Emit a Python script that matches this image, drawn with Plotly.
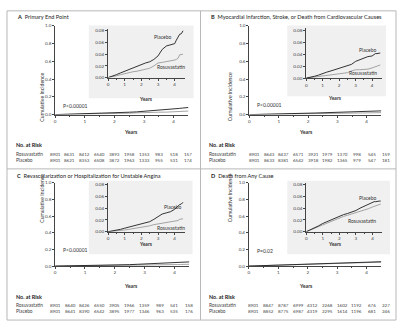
import plotly.graph_objects as go

W, H = 400, 326

# ---------------- data ----------------
years = [0, 0.25, 0.5, 0.75, 1.0, 1.25, 1.5, 1.75, 2.0, 2.25, 2.5, 2.75,
         3.0, 3.25, 3.5, 3.75, 4.0, 4.1, 4.2, 4.3, 4.4, 4.5]

A_placebo = [0, 0.002, 0.005, 0.008, 0.011, 0.014, 0.016, 0.019, 0.022, 0.025, 0.027, 0.031,
             0.037, 0.048, 0.054, 0.056, 0.058, 0.064, 0.070, 0.074, 0.075, 0.080]
A_rosuva = [0, 0.001, 0.003, 0.005, 0.007, 0.008, 0.010, 0.011, 0.013, 0.014, 0.016, 0.020,
            0.025, 0.026, 0.027, 0.028, 0.030, 0.031, 0.033, 0.039, 0.039, 0.040]

B_placebo = [0, 0.001, 0.003, 0.005, 0.008, 0.010, 0.012, 0.014, 0.016, 0.018, 0.020, 0.023,
             0.028, 0.031, 0.033, 0.036, 0.037, 0.039, 0.041, 0.041, 0.041, 0.042]
B_rosuva = [0, 0.001, 0.001, 0.002, 0.003, 0.004, 0.005, 0.006, 0.007, 0.008, 0.009, 0.012,
            0.014, 0.014, 0.014, 0.015, 0.017, 0.018, 0.019, 0.021, 0.022, 0.022]

C_placebo = [0, 0.001, 0.002, 0.004, 0.006, 0.008, 0.009, 0.011, 0.013, 0.015, 0.017, 0.021,
             0.026, 0.030, 0.032, 0.034, 0.038, 0.041, 0.044, 0.046, 0.047, 0.050]
C_rosuva = [0, 0.0005, 0.001, 0.002, 0.003, 0.004, 0.005, 0.006, 0.007, 0.008, 0.010, 0.012,
            0.013, 0.014, 0.015, 0.016, 0.017, 0.018, 0.019, 0.021, 0.021, 0.022]

D_placebo = [0, 0.003, 0.006, 0.010, 0.014, 0.017, 0.020, 0.024, 0.027, 0.029, 0.031, 0.033,
             0.036, 0.040, 0.043, 0.047, 0.050, 0.051, 0.051, 0.052, 0.052, 0.052]
D_rosuva = [0, 0.003, 0.006, 0.009, 0.012, 0.015, 0.018, 0.021, 0.024, 0.026, 0.028, 0.030,
            0.032, 0.034, 0.037, 0.039, 0.042, 0.043, 0.044, 0.046, 0.047, 0.047]

risk_years = [0, 0.5, 1.0, 1.5, 2.0, 2.5, 3.0, 3.5, 4.0, 4.5]
A_risk_rosuva = [8901, 8631, 8412, 6540, 3893, 1958, 1353, 983, 518, 157]
A_risk_placebo = [8901, 8621, 8353, 6508, 3872, 1963, 1333, 955, 531, 174]
B_risk_rosuva = [8901, 8643, 8437, 6571, 3921, 1979, 1370, 998, 545, 159]
B_risk_placebo = [8901, 8633, 8381, 6542, 3918, 1982, 1365, 979, 547, 181]
C_risk_rosuva = [8901, 8640, 8426, 6550, 3905, 1966, 1359, 989, 541, 158]
C_risk_placebo = [8901, 8641, 8390, 6542, 3895, 1977, 1346, 963, 535, 176]
D_risk_rosuva = [8901, 8847, 8787, 6999, 4312, 2268, 1602, 1192, 676, 227]
D_risk_placebo = [8901, 8852, 8775, 6987, 4319, 2295, 1614, 1196, 681, 246]

titles = ["Primary End Point",
          "Myocardial Infarction, Stroke, or Death from Cardiovascular Causes",
          "Revascularization or Hospitalization for Unstable Angina",
          "Death from Any Cause"]
letters = ["A", "B", "C", "D"]
p_texts = ["P<0.00001", "P<0.00001", "P<0.00001", "P=0.02"]
main_yticks = [0.0, 0.2, 0.4, 0.6, 0.8, 1.0]
inset_yticks = [0.00, 0.02, 0.04, 0.06, 0.08]
xticks = [0, 1, 2, 3, 4]

# label anchor points (data coords in inset)
label_pos = [((3.28, 0.0688), (3.79, 0.0185)),
             ((3.70, 0.0465), (3.46, 0.0080)),
             ((3.85, 0.0420), (3.76, 0.0070)),
             ((3.70, 0.0580), (3.35, 0.0190))]

series = [(A_placebo, A_rosuva, A_risk_rosuva, A_risk_placebo),
          (B_placebo, B_rosuva, B_risk_rosuva, B_risk_placebo),
          (C_placebo, C_rosuva, C_risk_rosuva, C_risk_placebo),
          (D_placebo, D_rosuva, D_risk_rosuva, D_risk_placebo)]

# ---------------- geometry (pixels) ----------------
geo = [
    dict(mx0=54.3, mppy=29.7, mtop=23.3, mbot=113.7, ix0=107.3, ippy=16.7, itop=28.3, ibot=76.0,
         rect=(88, 23, 193, 97), tx=14, ty=14, ylx=36, yrs=131, iyrs=93,
         rh=145, r1=154, r2=160, lx=13, tshift=0, px=60, py=100),
    dict(mx0=249.0, mppy=29.4, mtop=23.3, mbot=113.7, ix0=306.0, ippy=16.5, itop=27.8, ibot=76.5,
         rect=(287, 23, 386, 95), tx=209, ty=14, ylx=229, yrs=131, iyrs=92,
         rh=145, r1=154, r2=160, lx=207, tshift=5, px=255, py=99),
    dict(mx0=54.3, mppy=29.9, mtop=183.0, mbot=268.0, ix0=107.3, ippy=16.7, itop=185.0, ibot=233.0,
         rect=(88, 181, 192, 256), tx=14, ty=176, ylx=36, yrs=293, iyrs=250.5,
         rh=305, r1=313, r2=319, lx=13, tshift=0, px=60, py=257),
    dict(mx0=248.5, mppy=29.5, mtop=183.0, mbot=268.0, ix0=306.0, ippy=16.6, itop=185.0, ibot=233.0,
         rect=(287, 181, 390, 256), tx=209, ty=176, ylx=229, yrs=293, iyrs=250.5,
         rh=305, r1=313, r2=319, lx=207, tshift=5, px=255, py=258),
]


def fx(p):
    return p / W


def fy(p):
    return 1 - p / H


FONT = "Lato"
TXT = "#333333"
TICKC = "#444444"
PLAC = "#1e1e1e"
ROSU = "#9a9a9a"

fig = go.Figure()
layout = dict(width=W, height=H, margin=dict(l=0, r=0, t=0, b=0),
              paper_bgcolor="white", plot_bgcolor="rgba(0,0,0,0)", showlegend=False,
              font=dict(family=FONT, size=5, color=TXT))
annotations = []
shapes = []

XMAIN = 4.5
XINS = 4.6
YINS = 0.083

for k in range(4):
    g = geo[k]
    plc, ros, rr, rp = series[k]
    mi, ii = 2 * k + 1, 2 * k + 2
    mx, my = ("x%d" % mi, "y%d" % mi)
    ix, iy = ("x%d" % ii, "y%d" % ii)

    # inset background
    x0, y0, x1, y1 = g["rect"]
    shapes.append(dict(type="rect", xref="paper", yref="paper", x0=fx(x0), x1=fx(x1),
                       y0=fy(y1), y1=fy(y0), fillcolor="#f0f0f0", line=dict(width=0),
                       layer="below"))

    mdx = [fx(g["mx0"]), fx(g["mx0"] + g["mppy"] * XMAIN)]
    mdy = [fy(g["mbot"]), fy(g["mtop"])]
    idx = [fx(g["ix0"]), fx(g["ix0"] + g["ippy"] * XINS)]
    ipy8 = (g["ibot"] - g["itop"]) / 0.08
    idy = [fy(g["ibot"]), fy(g["ibot"] - ipy8 * YINS)]

    common = dict(showgrid=False, zeroline=False, showline=True, linecolor=TICKC, linewidth=0.8,
                  ticks="outside", ticklen=2, tickwidth=0.7, tickcolor=TICKC,
                  tickfont=dict(family=FONT, size=4.6, color=TICKC), fixedrange=True)
    minor = dict(tickvals=[0.5, 1.5, 2.5, 3.5], ticks="outside", ticklen=1.2, tickcolor=TICKC)
    layout["xaxis" + ("" if mi == 1 else str(mi))] = dict(
        common, domain=mdx, range=[0, XMAIN], anchor=my, tickvals=xticks, minor=minor)
    layout["yaxis" + str(mi)] = dict(common, domain=mdy, range=[0, 1], anchor=mx,
                                     tickvals=main_yticks, tickformat=".1f")
    layout["xaxis" + str(ii)] = dict(
        common, domain=idx, range=[0, XINS], anchor=iy, tickvals=xticks, minor=minor)
    layout["yaxis" + str(ii)] = dict(common, domain=idy, range=[0, YINS], anchor=ix,
                                     tickvals=inset_yticks, tickformat=".2f")

    for xa, ya in ((mx, my), (ix, iy)):
        fig.add_trace(go.Scatter(x=years, y=ros, xaxis=xa, yaxis=ya, mode="lines",
                                 line=dict(color=ROSU, width=0.9), hoverinfo="skip"))
        fig.add_trace(go.Scatter(x=years, y=plc, xaxis=xa, yaxis=ya, mode="lines",
                                 line=dict(color=PLAC, width=0.9), hoverinfo="skip"))

    (plx, ply), (rlx, rly) = label_pos[k]
    annotations.append(dict(x=plx, y=ply, xref=ix, yref=iy, text="Placebo", showarrow=False,
                            font=dict(family=FONT, size=5, color=TXT)))
    annotations.append(dict(x=rlx, y=rly, xref=ix, yref=iy, text="Rosuvastatin", showarrow=False,
                            font=dict(family=FONT, size=5, color=TXT)))

    annotations.append(dict(x=fx(g["tx"]), y=fy(g["ty"]), xref="paper", yref="paper",
                            xanchor="left", yanchor="middle", showarrow=False,
                            text="<b>%s</b>  %s" % (letters[k], titles[k]),
                            font=dict(family=FONT, size=5.6, color="#222222")))
    annotations.append(dict(x=fx(g["ylx"]), y=fy((g["mtop"] + g["mbot"]) / 2), xref="paper",
                            yref="paper", text="Cumulative Incidence", textangle=-90,
                            showarrow=False, font=dict(family=FONT, size=5.2, color=TXT)))
    annotations.append(dict(x=(mdx[0] + mdx[1]) / 2, y=fy(g["yrs"]), xref="paper", yref="paper",
                            text="<b>Years</b>", showarrow=False,
                            font=dict(family=FONT, size=5.2, color=TXT)))
    annotations.append(dict(x=fx(g["ix0"] + g["ippy"] * 2.3), y=fy(g["iyrs"]), xref="paper",
                            yref="paper", text="<b>Years</b>", showarrow=False,
                            font=dict(family=FONT, size=5.0, color=TXT)))
    annotations.append(dict(x=fx(g["px"]), y=fy(g["py"]), xref="paper", yref="paper",
                            xanchor="left", text=p_texts[k], showarrow=False,
                            font=dict(family=FONT, size=5, color=TXT)))
    annotations.append(dict(x=fx(g["lx"]), y=fy(g["rh"]), xref="paper", yref="paper",
                            xanchor="left", text="<b>No. at Risk</b>", showarrow=False,
                            font=dict(family=FONT, size=5.4, color="#222222")))
    for rowy, name, vals in ((g["r1"], "Rosuvastatin", rr), (g["r2"], "Placebo", rp)):
        annotations.append(dict(x=fx(g["lx"]), y=fy(rowy), xref="paper", yref="paper",
                                xanchor="left", text=name, showarrow=False,
                                font=dict(family=FONT, size=4.8, color="#444444")))
        for xv, v in zip(risk_years, vals):
            annotations.append(dict(x=xv, y=fy(rowy), xref=mx, yref="paper", text=str(v),
                                    xshift=g["tshift"], showarrow=False,
                                    font=dict(family=FONT, size=4.5, color="#444444")))

BC = "#b8b8b8"
shapes.append(dict(type="rect", xref="paper", yref="paper", x0=fx(6), x1=fx(396),
                   y0=fy(323), y1=fy(8), line=dict(color=BC, width=1)))
shapes.append(dict(type="line", xref="paper", yref="paper", x0=fx(200), x1=fx(200),
                   y0=fy(323), y1=fy(8), line=dict(color=BC, width=1)))
shapes.append(dict(type="line", xref="paper", yref="paper", x0=fx(6), x1=fx(396),
                   y0=fy(169), y1=fy(169), line=dict(color=BC, width=1)))

layout["annotations"] = annotations
layout["shapes"] = shapes
fig.update_layout(**layout)
fig.write_html("out.html")
